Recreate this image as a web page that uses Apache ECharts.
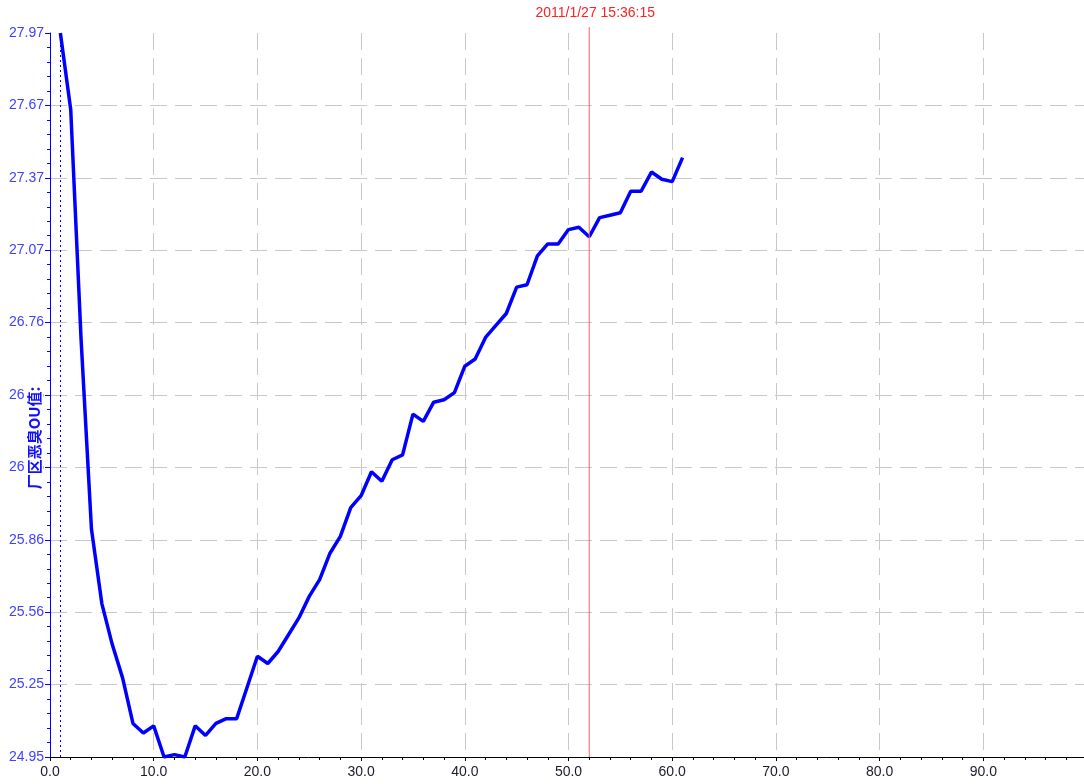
<!DOCTYPE html>
<html>
<head>
<meta charset="utf-8">
<title>厂区恶臭OU值</title>
<script src="https://cdn.jsdelivr.net/npm/echarts@6/dist/echarts.min.js"></script>
<style>
  html, body { margin: 0; padding: 0; background: #fff; }
  #main { width: 1084px; height: 784px; }
</style>
</head>
<body>
<div id="main"></div>
<script>
// 采样序号
var sampleNo = [1, 2, 3, 4, 5, 6, 7, 8, 9, 10,
  11, 12, 13, 14, 15, 16, 17, 18, 19, 20,
  21, 22, 23, 24, 25, 26, 27, 28, 29, 30,
  31, 32, 33, 34, 35, 36, 37, 38, 39, 40,
  41, 42, 43, 44, 45, 46, 47, 48, 49, 50,
  51, 52, 53, 54, 55, 56, 57, 58, 59, 60, 61]
// 厂区恶臭OU值
var ouValues = [27.97, 27.65, 26.69, 25.90, 25.59, 25.42, 25.28, 25.09, 25.05, 25.08,
  24.95, 24.96, 24.95, 25.08, 25.04, 25.09, 25.11, 25.11, 25.24, 25.37,
  25.34, 25.39, 25.46, 25.53, 25.62, 25.69, 25.80, 25.87, 25.99, 26.04,
  26.14, 26.10, 26.19, 26.21, 26.38, 26.35, 26.43, 26.44, 26.47, 26.58,
  26.61, 26.70, 26.75, 26.80, 26.91, 26.92, 27.04, 27.09, 27.09, 27.15,
  27.16, 27.12, 27.20, 27.21, 27.22, 27.31, 27.31, 27.39, 27.36, 27.35,
  27.45]
// 左侧刻度文字（从下往上）
var yTickLabels = ['24.95', '25.25', '25.56', '25.86', '26.16', '26.46', '26.76', '27.07', '27.37', '27.67', '27.97']
var yMin = 24.95
var yMax = 27.97
var refLineX = 1
var cursorX = 52
var cursorTop = 27.995
var cursorTime = '2011/1/27 15:36:15'
var yName = '厂区恶臭OU值:'

var gridLine = { show: true, showMinLine: false, showMaxLine: false, lineStyle: { color: '#c8c8c8', width: 1, type: [17, 8] } }

var chart = echarts.init(document.getElementById('main'))
var option = {
  backgroundColor: '#fff',
  animation: false,
  grid: { left: 50, top: 33, width: 1037, height: 724, outerBoundsMode: 'none', containLabel: false },
  xAxis: {
    type: 'value',
    min: 0,
    max: 100,
    interval: 10,
    axisLine: { onZero: false, lineStyle: { color: '#000', width: 1 } },
    axisTick: { length: 4, lineStyle: { color: '#000' } },
    minorTick: { show: true, splitNumber: 5, length: 3, lineStyle: { color: '#000' } },
    axisLabel: {
      margin: 8,
      color: '#1a1a2a',
      fontSize: 14,
      fontFamily: 'Liberation Sans',
      showMaxLabel: false,
      formatter: function (v) { return v.toFixed(1) }
    },
    splitLine: gridLine
  },
  yAxis: [{
    // 显示用刻度轴
    type: 'value',
    min: 0,
    max: yTickLabels.length - 1,
    interval: 1,
    axisLine: { show: true, lineStyle: { color: '#0000ff', width: 1 } },
    axisTick: { show: true, length: 5, lineStyle: { color: '#0000ff' } },
    minorTick: { show: true, splitNumber: 5, length: 3, lineStyle: { color: '#0000ff' } },
    axisLabel: {
      margin: 6,
      color: '#4040ff',
      fontSize: 14,
      fontFamily: 'Liberation Sans',
      showMinLabel: true,
      showMaxLabel: true,
      formatter: function (v) { return yTickLabels[Math.round(v)] }
    },
    splitLine: gridLine
  }, {
    // 数据轴
    type: 'value',
    min: yMin,
    max: yMax,
    show: false
  }],
  graphic: [{
    type: 'text',
    x: 34,
    y: 438,
    rotation: Math.PI / 2,
    z: 100,
    style: {
      text: yName,
      fill: '#1010ff',
      font: 'bold 15px "Noto Sans CJK SC"',
      align: 'center',
      verticalAlign: 'middle',
      backgroundColor: '#fff',
      padding: [2, 0, 1, 0]
    }
  }],
  series: [{
    type: 'line',
    yAxisIndex: 1,
    data: sampleNo.map(function (x, i) { return [x, ouValues[i]] }),
    showSymbol: false,
    lineStyle: { color: '#0000ff', width: 3.5 },
    itemStyle: { color: '#0000ff' },
    markLine: {
      silent: true,
      symbol: ['none', 'none'],
      animation: false,
      lineStyle: { color: '#0000ff', width: 1, type: [2, 3] },
      label: { show: false },
      data: [{ xAxis: refLineX }]
    }
  }, {
    // 光标线
    type: 'line',
    yAxisIndex: 1,
    clip: false,
    silent: true,
    symbol: 'circle',
    symbolSize: 0,
    showSymbol: true,
    lineStyle: { color: '#ff6060', width: 1 },
    itemStyle: { color: '#ff6060' },
    data: [
      [cursorX, yMin],
      {
        value: [cursorX, cursorTop],
        label: {
          show: true,
          position: 'top',
          distance: 7,
          formatter: cursorTime,
          color: '#ff2020',
          fontSize: 14,
          fontFamily: 'Liberation Sans',
          padding: [0, 0, 0, 12]
        }
      }
    ]
  }]
}
chart.setOption(option)
window.onresize = chart.resize
</script>
</body>
</html>
